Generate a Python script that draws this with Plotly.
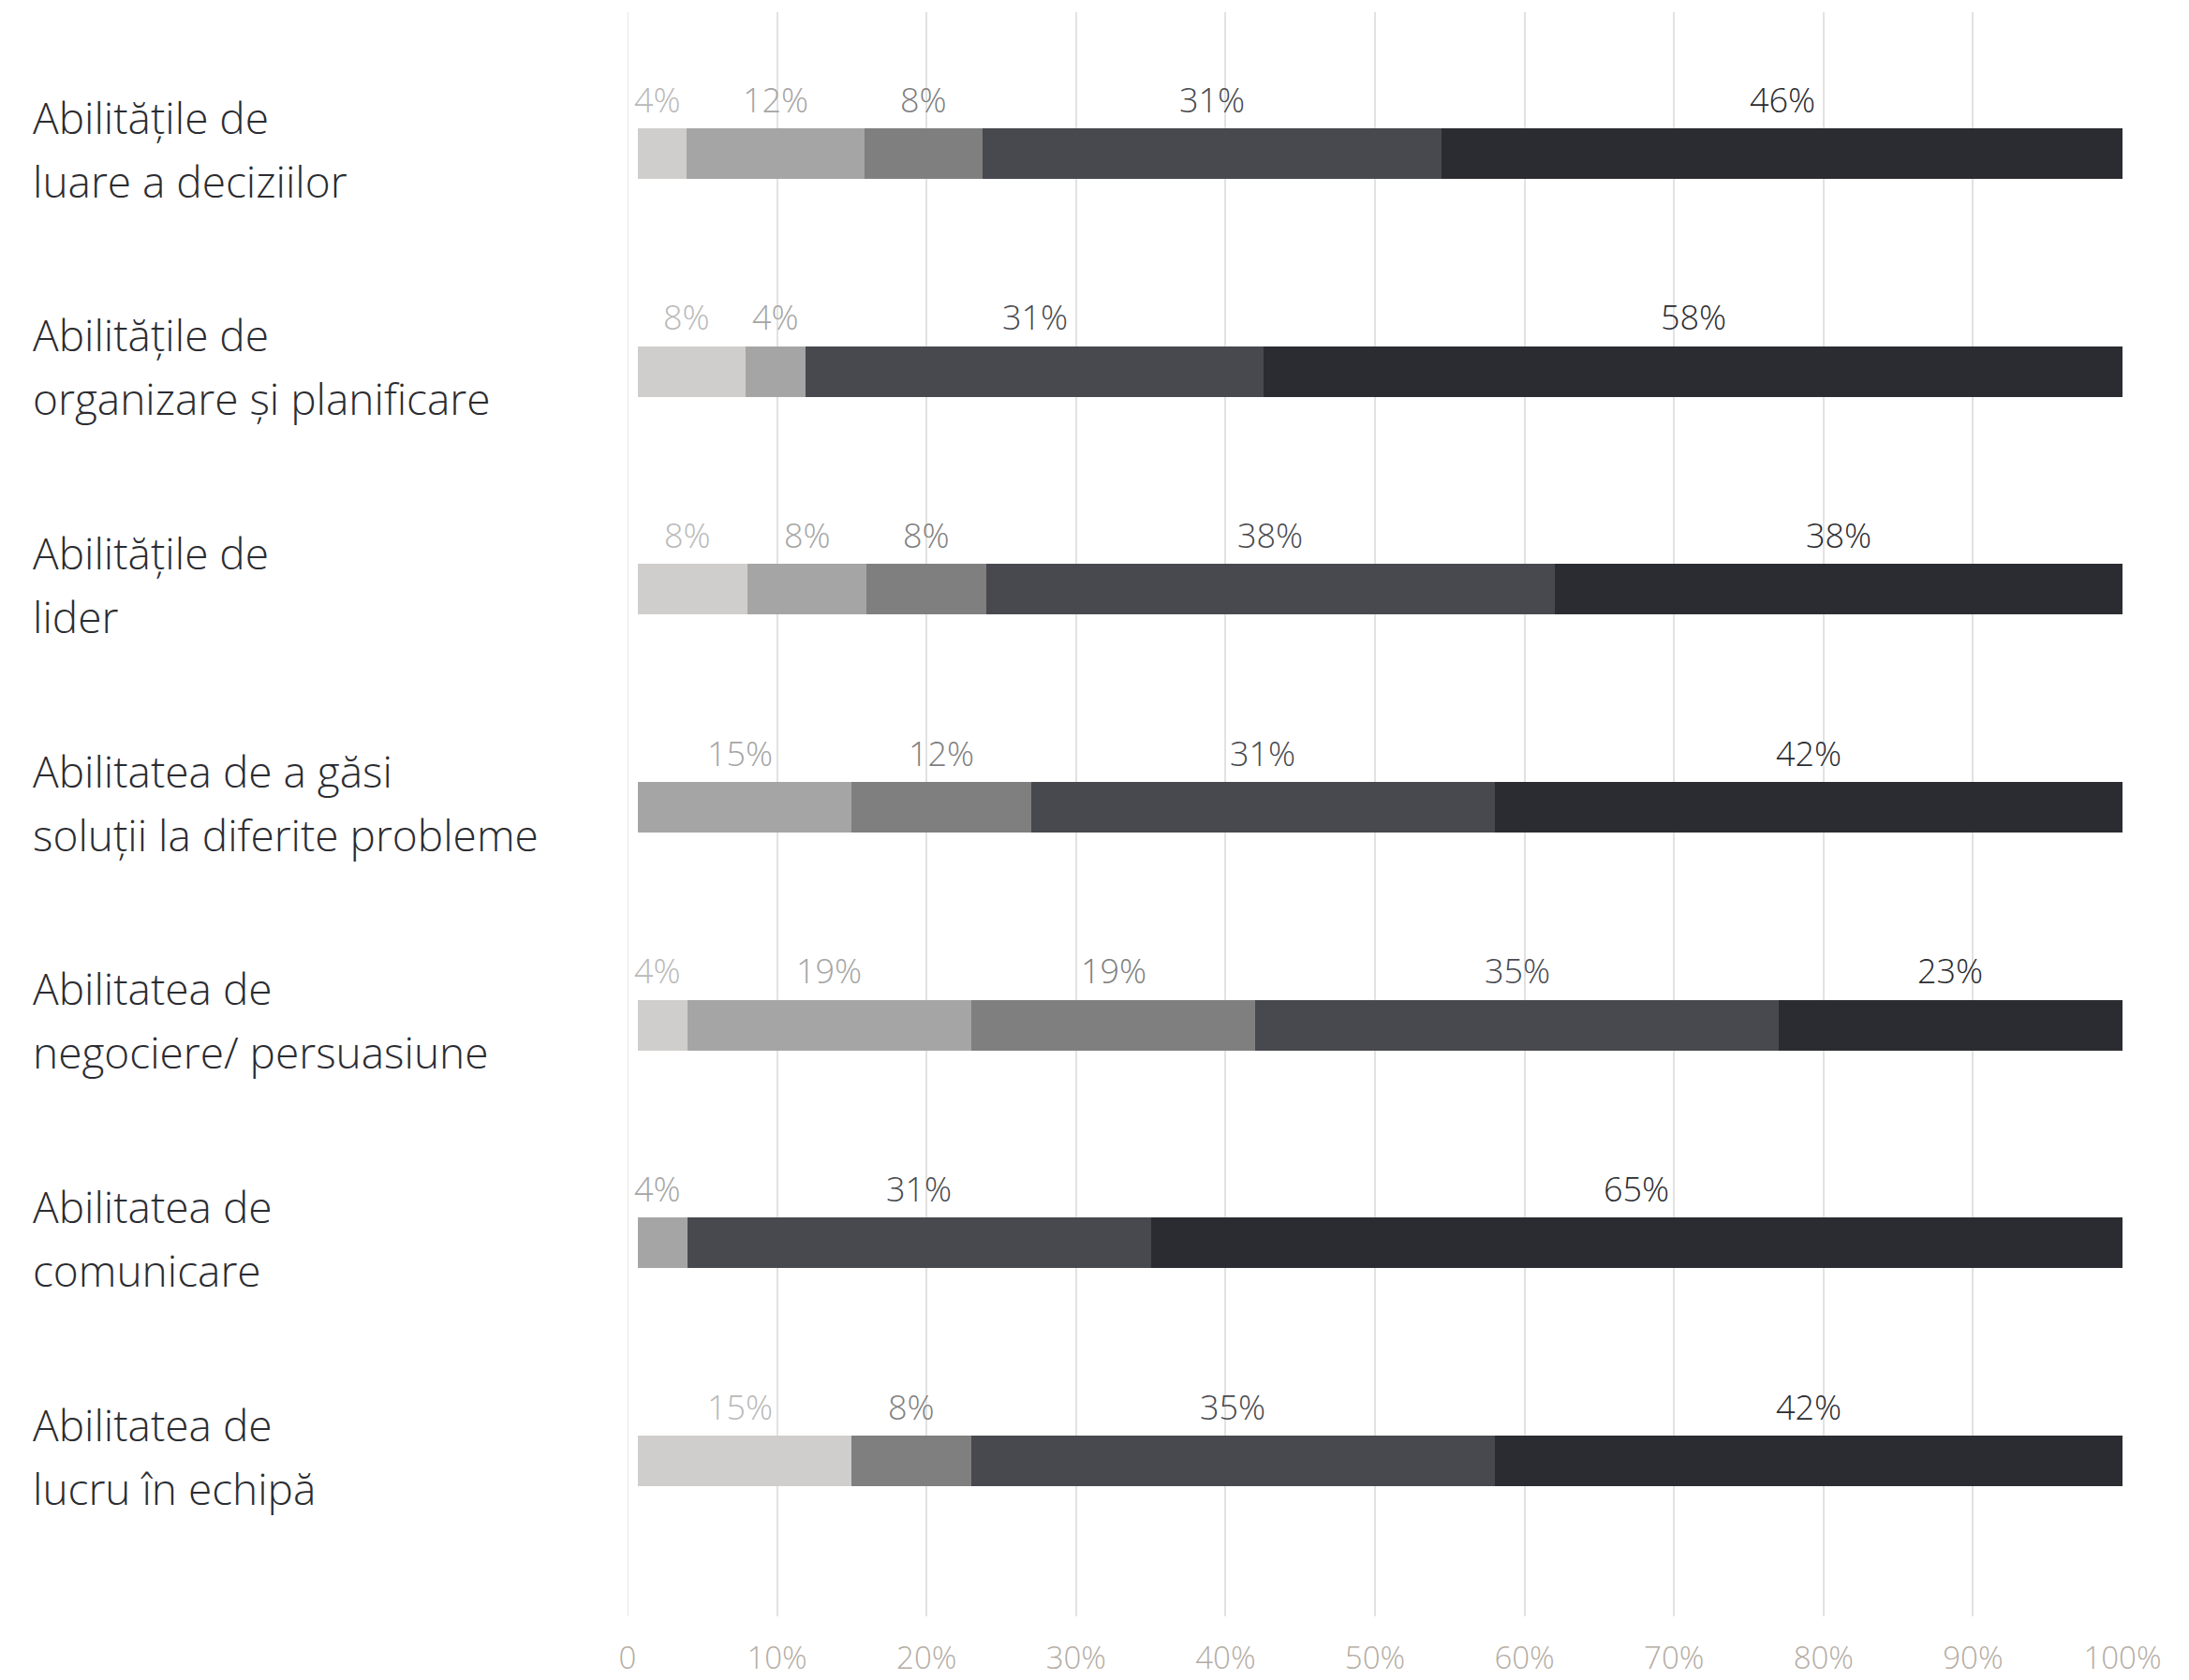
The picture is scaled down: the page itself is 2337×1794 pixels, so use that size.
import plotly.graph_objects as go

categories = [
    "Abilitățile de<br>luare a deciziilor",
    "Abilitățile de<br>organizare și planificare",
    "Abilitățile de<br>lider",
    "Abilitatea de a găsi<br>soluții la diferite probleme",
    "Abilitatea de<br>negociere/ persuasiune",
    "Abilitatea de<br>comunicare",
    "Abilitatea de<br>lucru în echipă",
]

series_names = ["Nivel 1", "Nivel 2", "Nivel 3", "Nivel 4", "Nivel 5"]
s1 = [4, 8, 8, 0, 4, 0, 15]
s2 = [12, 4, 8, 15, 19, 4, 0]
s3 = [8, 0, 8, 12, 19, 0, 8]
s4 = [31, 31, 38, 31, 35, 31, 35]
s5 = [46, 58, 38, 42, 23, 65, 42]
series = [s1, s2, s3, s4, s5]

tick_vals = [0, 10, 20, 30, 40, 50, 60, 70, 80, 90, 100]
tick_text = ["0", "10%", "20%", "30%", "40%", "50%", "60%", "70%", "80%", "90%", "100%"]

bar_colors = ["#cfcecc", "#a5a5a5", "#7f7f7f", "#48494e", "#2b2c31"]
label_colors = ["#b9b9b9", "#a5a5a5", "#7f7f7f", "#48494e", "#2b2c31"]
GRID = "#e2e2e2"

FONT = "Open Sans"

fig = go.Figure()
for name, vals, col in zip(series_names, series, bar_colors):
    fig.add_trace(go.Bar(
        y=categories, x=vals, orientation="h", name=name,
        marker=dict(color=col, line=dict(width=0)),
        hoverinfo="skip", showlegend=False,
    ))

annotations = []
shapes = []
n = len(categories)
for i, cat in enumerate(categories):
    total = sum(s[i] for s in series)
    cum = 0.0
    for k, s in enumerate(series):
        v = s[i]
        if v == 0:
            continue
        w = v / total * 100.0
        mid = cum + w / 2.0
        cum += w
        annotations.append(dict(
            x=mid, y=i, xref="x", yref="y", text=f"{v}%", showarrow=False,
            xanchor="center", yanchor="middle", yshift=58,
            font=dict(family=FONT, size=36, color=label_colors[k], weight=300),
        ))
    # small white inset at bar start (as in the original rendering)
    shapes.append(dict(type="rect", xref="x", yref="y", x0=0, x1=0.69,
                       y0=i - 0.118, y1=i + 0.118, fillcolor="white",
                       line=dict(width=0), layer="above"))
    lines = cat.split("<br>")
    shifts = [39.5, -28.5]
    for line, sh in zip(lines, shifts):
        annotations.append(dict(
            x=-0.399, y=i, xref="paper", yref="y", text=line, showarrow=False,
            xanchor="left", yanchor="middle", yshift=sh,
            font=dict(family=FONT, size=46, color="#2b2c31", weight=300),
        ))

# keep the zero gridline visible over the inset
shapes.append(dict(type="line", xref="x", yref="paper", x0=0, x1=0, y0=0, y1=1,
                   line=dict(color=GRID, width=1.5), layer="above"))

fig.update_layout(
    barmode="stack",
    barnorm="percent",
    bargap=0.768,
    width=2329, height=1786,
    margin=dict(l=662, r=71, t=5, b=68),
    paper_bgcolor="white", plot_bgcolor="white",
    annotations=annotations,
    shapes=shapes,
    font=dict(family=FONT),
)
fig.update_xaxes(
    range=[0, 100], tickvals=tick_vals, ticktext=tick_text,
    showgrid=True, gridcolor=GRID, gridwidth=1.5,
    zeroline=False, showline=False, automargin=False,
    ticks="outside", ticklen=15, tickcolor="rgba(0,0,0,0)",
    tickfont=dict(family=FONT, size=33, color="#b4aca4", weight=300),
)
fig.update_yaxes(
    range=[n - 1 + 0.713, -0.649], showticklabels=False, showgrid=False,
    zeroline=False, showline=False, automargin=False,
)

fig.write_html("out.html")
